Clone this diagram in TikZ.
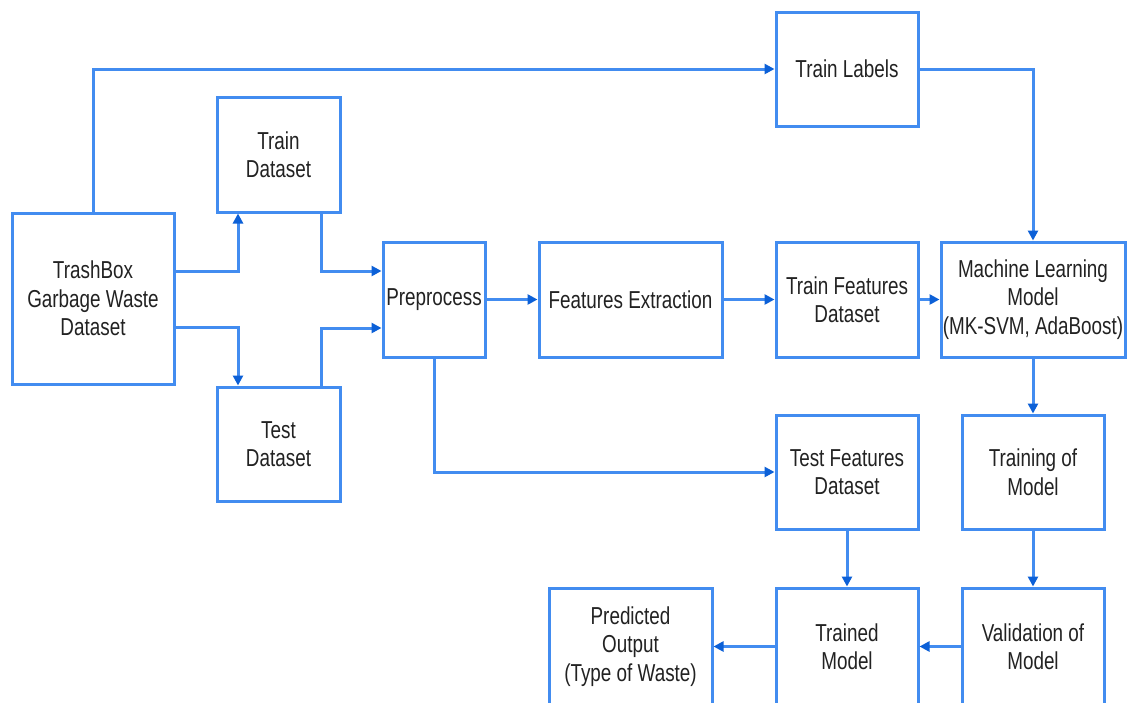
\documentclass[tikz,border=0pt]{standalone}
\usepackage{fontspec}
\setmainfont{Liberation Sans}[FakeStretch=0.77]
\usetikzlibrary{arrows.meta}
\definecolor{lineblue}{RGB}{66,140,240}
\definecolor{tipblue}{RGB}{12,96,215}
\definecolor{txt}{RGB}{34,34,34}
\begin{document}
\begin{tikzpicture}[x=1pt,y=-1pt,
  box/.style={draw=lineblue,line width=3pt,fill=white,inner sep=0pt,
    align=center,text=txt,font=\fontsize{24.5}{28.5}\selectfont},
  arr/.style={draw=lineblue,line width=3pt,
    -{Triangle[length=10pt,width=10pt,color=tipblue]}}]
\useasboundingbox (0,0) rectangle (1128,702);
\clip (0,0) rectangle (1128,702);
\fill[white] (0,0) rectangle (1128,702);

% process boxes
\node[box,minimum width=162pt,minimum height=171pt] (trash) at (93,298.5) {TrashBox\\Garbage Waste\\Dataset};
\node[box,minimum width=123pt,minimum height=115pt] (traind) at (278.5,154.5) {Train\\Dataset};
\node[box,minimum width=123pt,minimum height=114pt] (testd) at (278.5,444) {Test\\Dataset};
\node[box,minimum width=102pt,minimum height=115pt] (prep) at (434,299.5) {Preprocess};
\node[box,minimum width=183pt,minimum height=115pt] (fe) at (630.5,299.5) {Features Extraction};
\node[box,minimum width=142pt,minimum height=114pt] (labels) at (847,69) {Train Labels};
\node[box,minimum width=142pt,minimum height=115pt] (trainf) at (847,299.5) {Train Features\\Dataset};
\node[box,minimum width=184pt,minimum height=115pt] (ml) at (1033,299.5) {Machine Learning\\Model\\(MK-SVM, AdaBoost)};
\node[box,minimum width=142pt,minimum height=114pt] (testf) at (847,472) {Test Features\\Dataset};
\node[box,minimum width=142pt,minimum height=114pt] (training) at (1033,472) {Training of\\Model};
\node[box,minimum width=142pt,minimum height=117pt] (trained) at (847,646.5) {Trained\\Model};
\node[box,minimum width=142pt,minimum height=117pt] (valid) at (1033,646.5) {Validation of\\Model};
\node[box,minimum width=163pt,minimum height=117pt] (pred) at (630.5,646.5) {Predicted\\Output\\(Type of Waste)};

% connectors
\draw[arr] (trash.north) |- (labels.west);
\draw[arr] ([yshift=27.5pt]trash.east) -| ([xshift=-40.5pt]traind.south);
\draw[arr] ([yshift=-28.5pt]trash.east) -| ([xshift=-40.5pt]testd.north);
\draw[arr] ([xshift=42.5pt]traind.south) |- ([yshift=28.5pt]prep.west);
\draw[arr] ([xshift=42.5pt]testd.north) |- ([yshift=-28.5pt]prep.west);
\draw[arr] (prep.east) -- (fe.west);
\draw[arr] (fe.east) -- (trainf.west);
\draw[arr] (trainf.east) -- (ml.west);
\draw[arr] (labels.east) -| (ml.north);
\draw[arr] (prep.south) |- (testf.west);
\draw[arr] (ml.south) -- (training.north);
\draw[arr] (training.south) -- (valid.north);
\draw[arr] (testf.south) -- (trained.north);
\draw[arr] (valid.west) -- (trained.east);
\draw[arr] (trained.west) -- (pred.east);
\end{tikzpicture}
\end{document}
